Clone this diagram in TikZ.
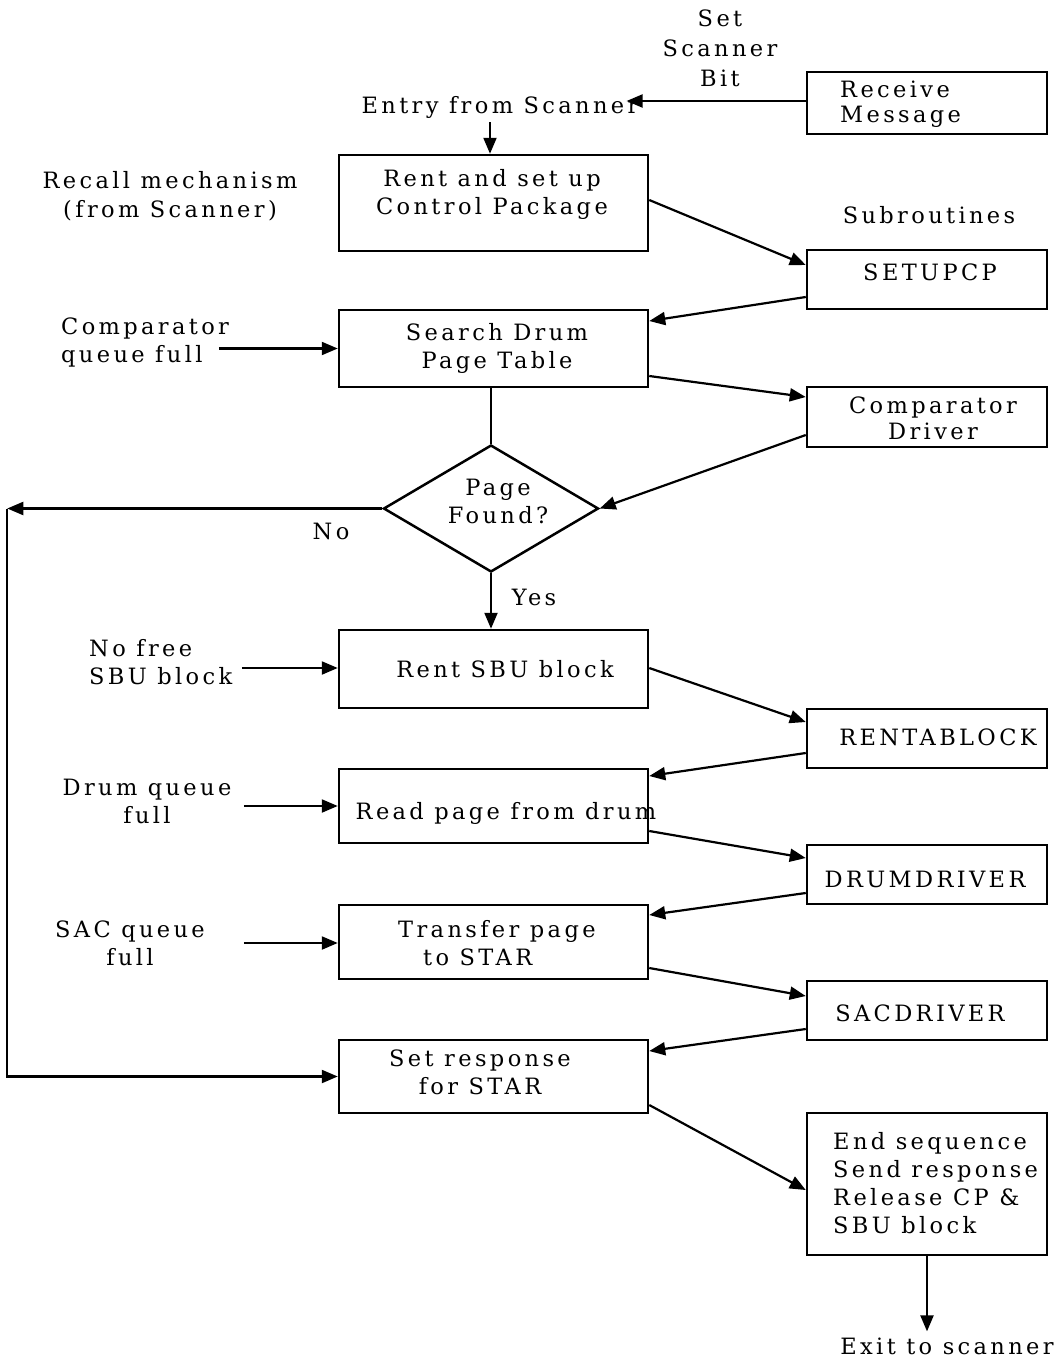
\documentclass[tikz,border=0pt]{standalone}
\usepackage{fontspec}
\setmainfont{DejaVu Serif}[LetterSpace=15]
\usetikzlibrary{arrows.meta,shapes.geometric,calc}
\begin{document}
\begin{tikzpicture}[x=1pt,y=-1pt,
  proc/.style={draw, line width=2.5pt, minimum width=309pt, inner sep=0pt},
  sub/.style={draw, line width=2.5pt, minimum width=240pt, inner sep=0pt},
  txt/.style={font=\fontsize{22.5}{28}\selectfont, align=center, inner sep=0pt},
  flow/.style={line width=2.2pt, -{Triangle[length=16pt,width=13pt]}},
  plain/.style={line width=2.2pt}]
\useasboundingbox (0,0) rectangle (1064,1360);

% main column of processing steps
\node[proc, minimum height=96pt] (b1) at (493.5,203) {};
\node[proc, minimum height=77pt] (b2) at (493.5,348.5) {};
\node[diamond, draw, line width=2.5pt, inner sep=0pt, minimum width=215pt, minimum height=127pt] (d) at (491,508.5) {};
\node[proc, minimum height=78pt] (b3) at (493.5,669) {};
\node[proc, minimum height=74pt] (b4) at (493.5,806) {};
\node[proc, minimum height=74pt] (b5) at (493.5,942) {};
\node[proc, minimum height=73pt] (b6) at (493.5,1076.5) {};

% subroutine column
\node[sub, minimum height=62pt] (rm) at (927,103) {};
\node[sub, minimum height=59pt] (s1) at (927,279.5) {};
\node[sub, minimum height=60pt] (s2) at (927,417) {};
\node[sub, minimum height=59pt] (s3) at (927,738.5) {};
\node[sub, minimum height=59pt] (s4) at (927,874.5) {};
\node[sub, minimum height=59pt] (s5) at (927,1010.5) {};
\node[sub, minimum height=142pt] (s6) at (927,1184) {};

% box texts
\node[txt] at (492,194) {Rent and set up\\Control Package};
\node[txt] at (497,348) {Search Drum\\Page Table};
\node[txt] at (498,501) {Page\\Found?};
\node[txt] at (505,669) {Rent SBU block};
\node[txt] at (506,813) {Read page from drum};
\node[txt, align=left, anchor=west] at (398,943) {Transfer page\\\hspace*{25pt}to STAR};
\node[txt] at (480,1072) {Set response\\for STAR};
\node[txt, align=left, anchor=west, font=\fontsize{22.5}{25}\selectfont] at (840,104.5) {Receive\\Message};
\node[txt] at (930,272) {SETUPCP};
\node[txt, font=\fontsize{22.5}{26}\selectfont] at (933,418) {Comparator\\Driver};
\node[txt] at (938,737) {RENTABLOCK};
\node[txt] at (925,879) {DRUMDRIVER};
\node[txt] at (920,1013) {SACDRIVER};
\node[txt, align=left, anchor=west] at (833,1183) {End sequence\\Send response\\Release CP \&\\SBU block};

% free labels
\node[txt, font=\fontsize{22.5}{30}\selectfont] (sb) at (720,48) {Set\\Scanner\\Bit};
\node[txt] (entry) at (500,107) {Entry from Scanner};
\node[txt, font=\fontsize{22.5}{29}\selectfont] (rc) at (170,196) {Recall mechanism\\(from Scanner)};
\node[txt] (subr) at (929,215) {Subroutines};
\node[txt, align=left, anchor=west] (cq) at (61,342) {Comparator\\queue full};
\node[txt, align=left, anchor=west] (nf) at (89,662) {No free\\SBU block};
\node[txt] (dq) at (147,801) {Drum queue\\full};
\node[txt] (sq) at (130,943) {SAC queue\\full};
\node[txt] (no) at (331,531) {No};
\node[txt] (yes) at (534,597) {Yes};
\node[txt] (exit) at (947,1346) {Exit to scanner};

% entry path
\coordinate (tipE) at ($(entry.east)+(-12,-6)$);
\draw[flow] ($(rm.west)+(0,-2)$) -- (tipE -| rm.west) -- (tipE);
\coordinate (b1in) at ($(b1.north)+(-3.5,0)$);
\draw[flow] ($(entry.south -| b1in)+(0,4)$) -- (b1in);

% calls into subroutines and returns
\draw[flow] ($(b1.east)+(0,-3)$) -- ($(s1.west)+(0,-14.5)$);
\draw[flow] ($(s1.west)+(0,17.5)$) -- ($(b2.east)+(0,-27.5)$);
\draw[flow] ($(b2.east)+(0,27.5)$) -- ($(s2.west)+(0,-20)$);
\draw[flow] ($(s2.west)+(0,18)$) -- (d.east);
\draw[flow] ($(b3.east)+(0,-1)$) -- ($(s3.west)+(0,-16.5)$);
\draw[flow] ($(s3.west)+(0,14.5)$) -- ($(b4.east)+(0,-30)$);
\draw[flow] ($(b4.east)+(0,25)$) -- ($(s4.west)+(0,-16.5)$);
\draw[flow] ($(s4.west)+(0,18.5)$) -- ($(b5.east)+(0,-27)$);
\draw[flow] ($(b5.east)+(0,26)$) -- ($(s5.west)+(0,-14.5)$);
\draw[flow] ($(s5.west)+(0,18.5)$) -- ($(b6.east)+(0,-25.5)$);
\draw[flow] ($(b6.east)+(0,28.5)$) -- ($(s6.west)+(0,6)$);
\draw[flow] (s6.south) -- ($(s6.south |- exit.north)+(0,-6)$);

% main flow
\draw[plain] (d.north |- b2.south) -- (d.north);
\draw[flow] (d.south) -- (d.south |- b3.north);
\coordinate (nocorner) at ($(d.west)+(-375,0)$);
\draw[flow] (d.west) -- (nocorner);
\draw[flow] (nocorner) -- (nocorner |- b6.west) -- (b6.west);

% queue-full re-entries
\draw[flow] ($(b2.west)+(-119,0)$) -- (b2.west);
\draw[flow] ($(b3.west)+(-96,-1)$) -- ($(b3.west)+(0,-1)$);
\draw[flow] ($(b4.west)+(-94,0)$) -- (b4.west);
\draw[flow] ($(b5.west)+(-94,1)$) -- ($(b5.west)+(0,1)$);
\end{tikzpicture}
\end{document}
